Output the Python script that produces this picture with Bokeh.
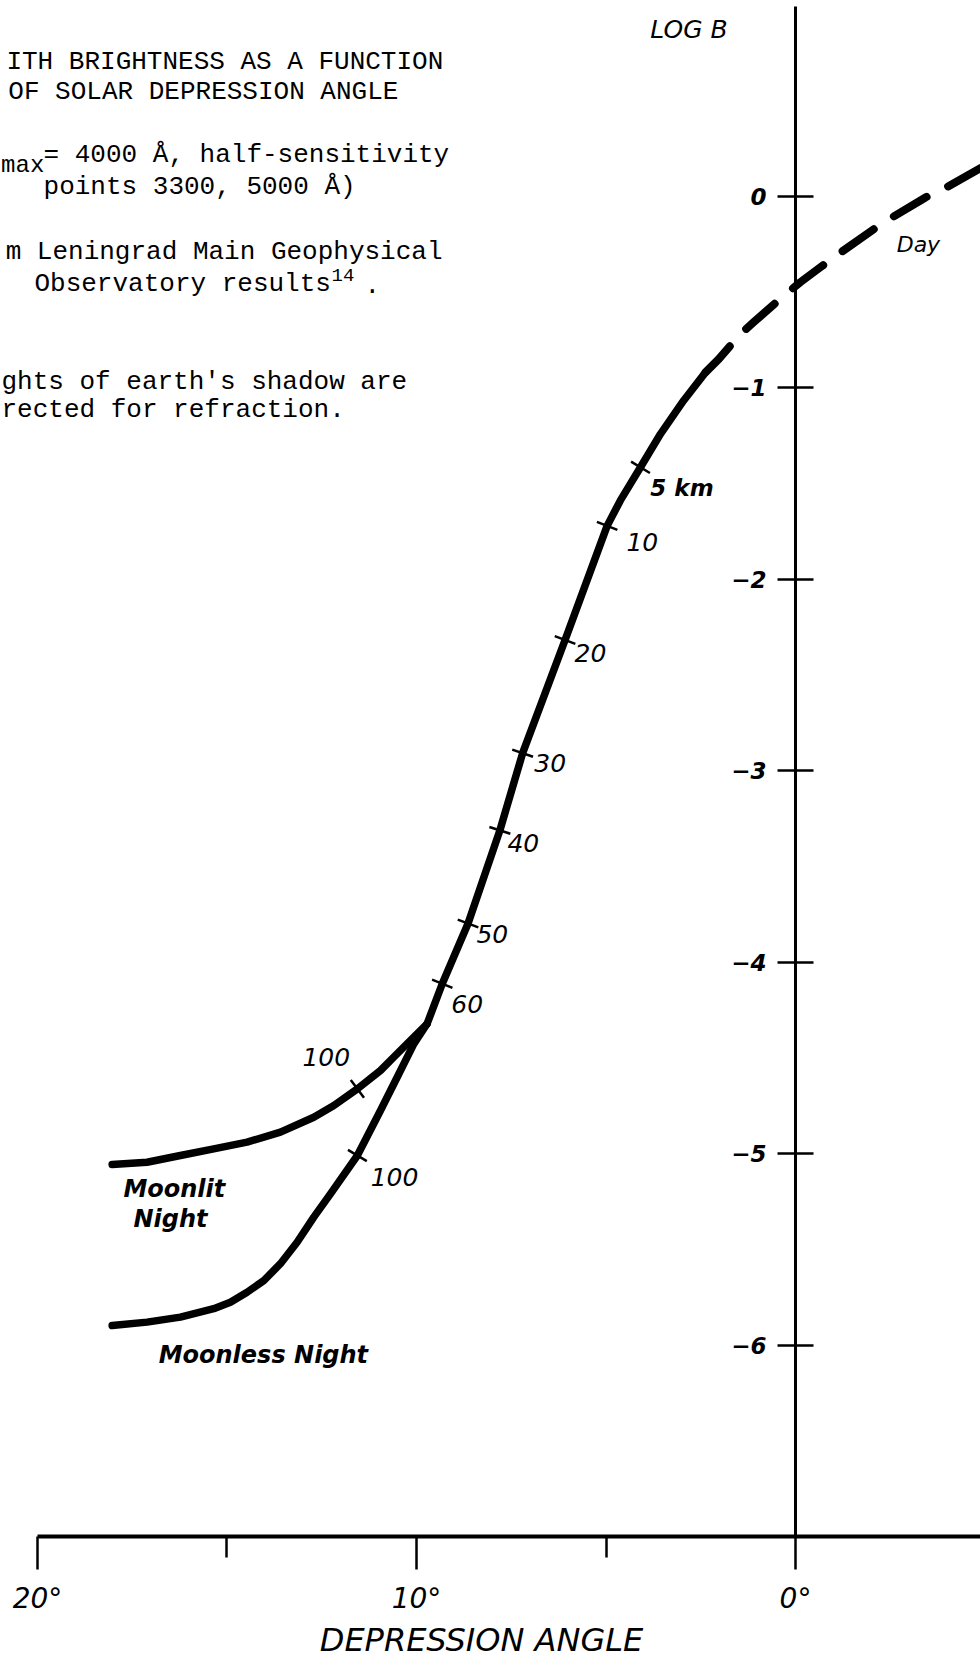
import numpy as np
from bokeh.plotting import figure
from bokeh.models import Range1d, FixedTicker, ColumnDataSource
from bokeh.core.properties import value
from bokeh.embed import file_html
from bokeh.resources import INLINE

# ---------------- data (depression angle in degrees, log B) ----------------
day_angle = [-4.9, -3.83, -3.43, -2.32, -1.98, -1.0, -0.66, -0.13, 0.40, 1.10, 1.45, 2.02, 2.37]
day_logb = [0.15, 0.031, -0.005, -0.136, -0.183, -0.319, -0.369, -0.447, -0.534, -0.656, -0.717, -0.848, -0.917]

twilight_angle = [2.37, 2.95, 3.56, 4.09, 4.62, 4.97, 6.08, 7.2, 7.8, 8.64, 9.32, 9.72]
twilight_logb = [-0.917, -1.065, -1.239, -1.414, -1.587, -1.72, -2.316, -2.907, -3.31, -3.796, -4.111, -4.32]

moonlit_angle = [9.72, 10.25, 10.60, 10.95, 11.56, 12.18, 12.71, 13.59, 14.47, 15.35, 16.23, 17.11, 18.03]
moonlit_logb = [-4.32, -4.425, -4.494, -4.564, -4.66, -4.747, -4.808, -4.886, -4.938, -4.973, -5.008, -5.043, -5.055]

moonless_angle = [9.72, 10.07, 10.51, 10.95, 11.56, 12.27, 12.71, 13.15, 13.59, 14.03, 14.47, 14.91, 15.35, 16.23, 17.11, 18.03]
moonless_logb = [-4.32, -4.425, -4.599, -4.773, -5.008, -5.208, -5.33, -5.461, -5.573, -5.661, -5.722, -5.774, -5.808, -5.852, -5.878, -5.896]

# heights of the earth's shadow marked on the curves
height_labels = ["5 km", "10", "20", "30", "40", "50", "60"]
height_angle = [4.09, 4.97, 6.08, 7.2, 7.8, 8.64, 9.32]
night_height_labels = ["100", "100"]
night_height_angle = [11.56, 11.56]

x_ticks = [20, 10, 0]
x_tick_labels = ["20°", "10°", "0°"]
x_minor_ticks = [15, 5]
y_ticks = [0, -1, -2, -3, -4, -5, -6]
y_tick_labels = ["0", "\u22121", "\u22122", "\u22123", "\u22124", "\u22125", "\u22126"]

# ---------------- figure ----------------
X0, X1 = 20.976, -4.881
Y0, Y1 = -7.6345, 1.0235
W, H = 980, 1658

p = figure(width=W, height=H, output_backend="svg", toolbar_location=None,
           x_range=Range1d(X0, X1), y_range=Range1d(Y0, Y1),
           min_border_left=0, min_border_right=0, min_border_top=0, min_border_bottom=0)
p.grid.visible = False
p.outline_line_color = None
p.background_fill_color = "white"

# x axis at log B = -7
xa = p.xaxis[0]
xa.fixed_location = -7
xa.bounds = (X1, 20)
xa.ticker = FixedTicker(ticks=x_ticks, minor_ticks=x_minor_ticks)
xa.major_label_overrides = {t: l for t, l in zip(x_ticks, x_tick_labels)}
xa.axis_line_width = 4
xa.major_tick_in = 0
xa.major_tick_out = 33
xa.minor_tick_in = 0
xa.minor_tick_out = 21
xa.major_tick_line_width = 2.5
xa.minor_tick_line_width = 2.5
xa.major_label_standoff = 12
xa.major_label_text_font = "DejaVu Sans"
xa.major_label_text_font_style = "italic"
xa.major_label_text_font_size = "28px"
xa.major_label_text_color = "black"

# y axis at depression angle 0
ya = p.yaxis[0]
ya.fixed_location = 0
ya.bounds = (-7, 0.99)
ya.ticker = FixedTicker(ticks=y_ticks, minor_ticks=[])
ya.major_label_overrides = {t: l for t, l in zip(y_ticks, y_tick_labels)}
ya.axis_line_width = 3
ya.major_tick_in = 18
ya.major_tick_out = 18
ya.major_tick_line_width = 2.5
ya.major_label_standoff = 11
ya.major_label_text_font = "DejaVu Sans"
ya.major_label_text_font_style = "bold italic"
ya.major_label_text_font_size = "23px"
ya.major_label_text_color = "black"

# axis titles
p.text(x=[8.285], y=[-7.538], text=["DEPRESSION ANGLE"], text_font=value("DejaVu Sans"),
       text_font_style="italic", text_font_size="32px", text_align="center",
       text_baseline="alphabetic", text_color="black")
p.text(x=[1.79], y=[0.874], text=["LOG B"], text_font=value("DejaVu Sans"),
       text_font_style="italic", text_font_size="25px", text_align="right",
       text_baseline="alphabetic", text_color="black")

# ---------------- curves ----------------
p.line(day_angle, day_logb, line_width=8, line_color="black", line_dash="38 24",
       line_cap="round", line_join="round")
for a, b in [(twilight_angle, twilight_logb), (moonlit_angle, moonlit_logb),
             (moonless_angle, moonless_logb)]:
    p.line(a, b, line_width=7.5, line_color="black", line_cap="round", line_join="round")

# tick marks across the curves at the shadow heights
sx = W / abs(X1 - X0)
sy = H / (Y1 - Y0)


def ticks_on(curve_a, curve_b, at):
    ca = np.asarray(curve_a, float)
    cb = np.asarray(curve_b, float)
    ys, angs = [], []
    for a in at:
        i = int(np.argmin(np.abs(ca - a)))
        j0, j1 = max(i - 1, 0), min(i + 1, len(ca) - 1)
        dx = -(ca[j1] - ca[j0]) * sx
        dy = (cb[j1] - cb[j0]) * sy
        ys.append(cb[i])
        angs.append(np.arctan2(dy, dx) + np.pi / 2)
    return ys, angs


hy, hang = ticks_on(twilight_angle, twilight_logb, height_angle)
ly, lang = ticks_on(moonlit_angle, moonlit_logb, night_height_angle[:1])
ny, nang = ticks_on(moonless_angle, moonless_logb, night_height_angle[1:])
tick_src = ColumnDataSource(dict(x=list(height_angle) + list(night_height_angle),
                                 y=list(hy) + list(ly) + list(ny),
                                 ang=list(hang) + list(lang) + list(nang)))
p.scatter("x", "y", source=tick_src, marker="dash", size=22, angle="ang",
          line_width=2.5, line_color="black")

# ---------------- labels on the curves ----------------
p.text(x=[3.83], y=[-1.522], text=height_labels[:1], text_font=value("DejaVu Sans"),
       text_font_style="bold italic", text_font_size="23px", text_align="left",
       text_baseline="alphabetic", text_color="black")
lab_src = ColumnDataSource(dict(
    x=[4.46, 5.83, 6.89, 7.60, 8.42, 9.08],
    y=[-1.804, -2.384, -2.958, -3.376, -3.851, -4.217],
    text=height_labels[1:]))
p.text("x", "y", text="text", source=lab_src, text_font=value("DejaVu Sans"),
       text_font_style="italic", text_font_size="25px", text_align="left",
       text_baseline="alphabetic", text_color="black")

night_src = ColumnDataSource(dict(x=[13.01, 11.21], y=[-4.494, -5.120], text=night_height_labels))
p.text("x", "y", text="text", source=night_src, text_font=value("DejaVu Sans"),
       text_font_style="italic", text_font_size="25px", text_align="left",
       text_baseline="alphabetic", text_color="black")

name_src = ColumnDataSource(dict(x=[16.39, 16.49, 14.04], y=[-5.183, -5.340, -6.050],
                                 text=["Moonlit", "Night", "Moonless Night"]))
p.text("x", "y", text="text", source=name_src, text_font=value("DejaVu Sans"),
       text_font_style="bold italic", text_font_size="24px", text_align="center",
       text_baseline="alphabetic", text_color="black")

p.text(x=[-2.67], y=[-0.249], text=["Day"], text_font=value("DejaVu Sans"),
       text_font_style="italic", text_font_size="22px", text_align="left",
       text_baseline="alphabetic", text_color="black")

# ---------------- typed caption (cropped at the left edge) ----------------
cap_src = ColumnDataSource(dict(
    x=[20.82, 20.77, 19.84, 19.84, 20.84, 20.08, 20.95, 20.95],
    y=[0.702, 0.546, 0.217, 0.050, -0.290, -0.457, -0.969, -1.115],
    text=["ITH BRIGHTNESS AS A FUNCTION",
          "OF SOLAR DEPRESSION ANGLE",
          "= 4000 \u00c5, half-sensitivity",
          "points 3300, 5000 \u00c5)",
          "m Leningrad Main Geophysical",
          "Observatory results",
          "ghts of earth's shadow are",
          "rected for refraction."]))
p.text("x", "y", text="text", source=cap_src, text_font=value("Liberation Mono"),
       text_font_size="26px", text_align="left", text_baseline="alphabetic",
       text_color="black")
p.text(x=[20.96], y=[0.164], text=["max"], text_font=value("Liberation Mono"),
       text_font_size="24px", text_align="left", text_baseline="alphabetic",
       text_color="black")
p.text(x=[12.24], y=[-0.410], text=["14"], text_font=value("Liberation Mono"),
       text_font_size="19px", text_align="left", text_baseline="alphabetic",
       text_color="black")
p.text(x=[11.37], y=[-0.457], text=["."], text_font=value("Liberation Mono"),
       text_font_size="26px", text_align="left", text_baseline="alphabetic",
       text_color="black")

open("out.html", "w").write(file_html(p, INLINE))
